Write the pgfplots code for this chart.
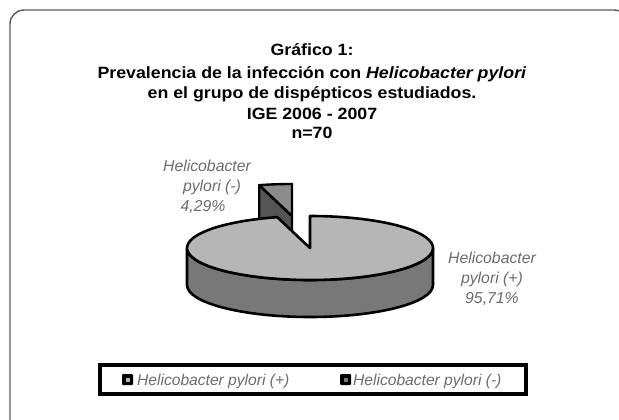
\documentclass[border=0pt]{standalone}
\usepackage{pgfplots}
\pgfplotsset{compat=1.18}
\usepackage{pgfplotstable}
\usepackage{fontspec}
\setmainfont{Liberation Sans}
\definecolor{topgray}{HTML}{B6B6B6}
\definecolor{sidegray}{HTML}{787878}
\definecolor{exptop}{HTML}{8C8C8C}
\definecolor{expside}{HTML}{555555}
\definecolor{labgray}{HTML}{6C6C6C}
\definecolor{framegray}{HTML}{5A5A5A}

\pgfplotstableread{
label value
neg 4.29
pos 95.71
}\piedata

\newcommand\ttl[1]{\scalebox{1.09}[1]{#1}}

\begin{document}
\begin{tikzpicture}
\pgfplotstablegetelem{0}{value}\of\piedata
\let\negval\pgfplotsretval
\pgfmathsetmacro\aneg{90+3.6*\negval}
\begin{axis}[
  x=1pt, y=1pt, y dir=reverse,
  xmin=0, xmax=619, ymin=0, ymax=420,
  scale only axis, hide axis, clip=false,
]
\coordinate (TL) at (axis cs:0,0);
\coordinate (BR) at (axis cs:619,420);
\fill[white] (axis cs:0,0) rectangle (axis cs:619,420);
% frame
\draw[framegray, line width=1.4pt, rounded corners=14pt]
  (axis cs:10,440) -- (axis cs:10,10) -- (axis cs:628,10) -- (axis cs:628,440);
% title
\begin{scope}[every node/.style={anchor=base, inner sep=0pt, font=\bfseries\fontsize{16.3}{19}\selectfont}]
\node at (axis cs:312,56) {\ttl{Gráfico 1:}};
\node at (axis cs:312,78) {\ttl{Prevalencia de la infección con \textit{Helicobacter pylori}}};
\node at (axis cs:312,98.5) {\ttl{en el grupo de dispépticos estudiados.}};
\node at (axis cs:312,119) {\ttl{IGE 2006 - 2007}};
\node at (axis cs:312,139) {\ttl{n=70}};
\end{scope}
% exploded slice (negative)
\filldraw[fill=expside, draw=black, line width=2.4pt, line join=round]
  (axis cs:292,216) -- ++(\aneg:123pt and 32pt) -- ++(0,-36pt) -- (axis cs:292,252) -- cycle;
\filldraw[fill=exptop, draw=black, line width=2.4pt, line join=round]
  (axis cs:292,216) -- ++(90:123pt and 32pt) arc[start angle=90, end angle=\aneg, x radius=123pt, y radius=32pt] -- cycle;
% main pie side
\filldraw[fill=sidegray, draw=black, line width=2.6pt, line join=round]
  (axis cs:187,248) -- (axis cs:187,285) arc[start angle=180, end angle=360, x radius=123pt, y radius=32pt]
  -- (axis cs:433,248) arc[start angle=0, end angle=-180, x radius=123pt, y radius=32pt] -- cycle;
% main pie top
\filldraw[fill=topgray, draw=black, line width=2.6pt, line join=round]
  (axis cs:310,248) -- ++(\aneg:123pt and 32pt) arc[start angle=\aneg, end angle=450, x radius=123pt, y radius=32pt] -- cycle;
% labels
\begin{scope}[every node/.style={anchor=base, text=labgray, font=\itshape\fontsize{15.8}{18}\selectfont}]
\node at (axis cs:207,171) {Helicobacter};
\node at (axis cs:212,191) {pylori (-)};
\node at (axis cs:203,211) {4,29\%};
\node at (axis cs:492,263) {Helicobacter};
\node at (axis cs:492,283) {pylori (+)};
\node at (axis cs:492,303) {95,71\%};
\end{scope}
% legend
\draw[black, line width=3.8pt] (axis cs:100,365) rectangle (axis cs:526,394);
\fill[black, rounded corners=1pt] (axis cs:122,374) rectangle (axis cs:133,385);
\fill[topgray] (axis cs:125.5,377.5) rectangle (axis cs:129.5,381.5);
\fill[black, rounded corners=1pt] (axis cs:340,374) rectangle (axis cs:351,385);
\fill[sidegray] (axis cs:343.5,377.5) rectangle (axis cs:347.5,381.5);
\node[anchor=base west, text=labgray, font=\itshape\fontsize{15.6}{18}\selectfont, inner sep=0pt] at (axis cs:137,385) {Helicobacter pylori (+)};
\node[anchor=base west, text=labgray, font=\itshape\fontsize{15.6}{18}\selectfont, inner sep=0pt] at (axis cs:353,385) {Helicobacter pylori (-)};
\end{axis}
\pgfresetboundingbox
\path[use as bounding box] (TL) rectangle (BR);
\end{tikzpicture}
\end{document}
